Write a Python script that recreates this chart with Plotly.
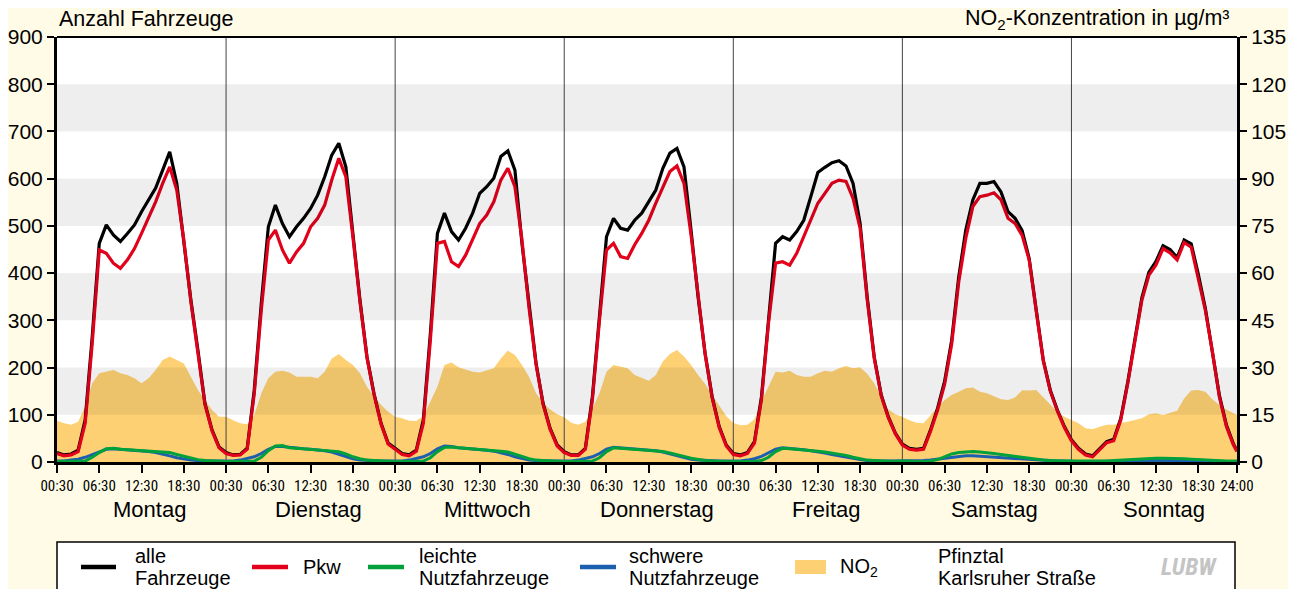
import plotly.graph_objects as go

# ---------------- data (hourly readings, Monday 00:30 ... Sunday 24:00) ----------------
days = ["Montag", "Dienstag", "Mittwoch", "Donnerstag", "Freitag", "Samstag", "Sonntag"]
tick_cycle = ["00:30", "06:30", "12:30", "18:30"]
tick_last = "24:00"

alle = [
    20, 15, 17, 25, 89, 265, 463, 502, 481, 467, 484, 502, 530, 555, 580, 618, 657, 590, 470, 343, 237, 124, 68, 32,   # Mo
    20, 15, 16, 29, 152, 336, 498, 544, 505, 477, 498, 516, 537, 565, 604, 650, 675, 625, 484, 343, 223, 145, 82, 40,  # Di
    29, 18, 15, 25, 89, 272, 484, 527, 488, 470, 495, 527, 569, 583, 601, 647, 659, 618, 463, 329, 209, 124, 71, 36,   # Mi
    22, 15, 15, 29, 138, 308, 477, 516, 495, 491, 512, 527, 551, 576, 622, 654, 664, 625, 491, 350, 230, 138, 75, 36,  # Do
    18, 15, 20, 43, 138, 308, 463, 477, 470, 488, 512, 562, 613, 624, 634, 638, 627, 590, 505, 350, 223, 142, 96, 61,  # Fr
    38, 29, 27, 29, 68, 114, 171, 258, 392, 491, 555, 590, 590, 594, 572, 530, 516, 490, 431, 322, 216, 152, 110, 75,  # Sa
    47, 29, 17, 13, 27, 43, 48, 92, 170, 262, 348, 402, 425, 458, 450, 433, 470, 462, 398, 326, 238, 141, 78, 38,      # So
    24,
]
pkw = [
    18, 13, 15, 22, 82, 251, 449, 442, 421, 410, 428, 452, 484, 516, 551, 590, 625, 576, 470, 340, 235, 122, 66, 30,
    18, 14, 15, 27, 145, 322, 470, 491, 449, 421, 445, 463, 498, 516, 544, 597, 643, 604, 477, 340, 221, 143, 80, 38,
    27, 16, 13, 23, 82, 258, 463, 467, 424, 414, 438, 470, 505, 523, 551, 597, 622, 583, 470, 327, 207, 122, 69, 34,
    20, 14, 14, 27, 132, 300, 449, 463, 435, 431, 460, 484, 512, 548, 580, 615, 627, 590, 481, 347, 228, 136, 73, 34,
    16, 13, 18, 40, 132, 294, 421, 424, 417, 442, 477, 512, 548, 569, 590, 597, 594, 558, 495, 345, 220, 140, 94, 60,
    36, 27, 25, 27, 65, 110, 165, 250, 381, 474, 541, 562, 565, 570, 555, 516, 505, 480, 428, 320, 214, 150, 108, 73,
    45, 27, 15, 11, 25, 41, 45, 89, 167, 258, 343, 396, 417, 452, 443, 428, 465, 455, 392, 322, 234, 138, 75, 36,
    22,
]
lnf = [
    1, 1, 1, 1, 2, 10, 20, 28, 29, 27, 26, 25, 25, 24, 23, 22, 20, 16, 12, 8, 5, 3, 2, 1,
    1, 1, 1, 1, 2, 10, 24, 34, 35, 30, 29, 28, 27, 26, 25, 24, 22, 17, 11, 7, 4, 3, 2, 1,
    1, 1, 1, 1, 2, 9, 22, 31, 32, 30, 29, 28, 27, 26, 25, 23, 21, 17, 12, 7, 4, 3, 2, 1,
    1, 1, 1, 1, 2, 9, 22, 30, 29, 27, 26, 25, 25, 24, 22, 19, 16, 12, 8, 5, 3, 2, 1, 1,
    1, 1, 1, 1, 3, 10, 22, 29, 28, 27, 26, 25, 23, 21, 19, 17, 14, 10, 7, 4, 3, 2, 1, 1,
    2, 1, 1, 1, 2, 5, 11, 17, 20, 21, 22, 21, 20, 18, 16, 14, 12, 9, 7, 5, 4, 3, 2, 2,
    2, 2, 1, 1, 1, 2, 3, 4, 5, 6, 7, 8, 8, 8, 8, 7, 7, 6, 5, 4, 3, 3, 2, 2,
    2,
]
snf = [
    2, 2, 4, 6, 10, 16, 22, 27, 28, 27, 26, 25, 24, 22, 20, 17, 13, 9, 6, 4, 3, 2, 2, 2,
    2, 2, 4, 7, 11, 18, 27, 33, 33, 31, 29, 28, 27, 26, 24, 21, 16, 11, 7, 4, 3, 2, 2, 2,
    2, 2, 4, 7, 11, 18, 28, 34, 33, 30, 29, 28, 27, 25, 23, 20, 16, 11, 7, 4, 3, 2, 2, 2,
    2, 2, 4, 7, 11, 18, 27, 31, 30, 28, 27, 26, 25, 24, 21, 17, 13, 9, 6, 4, 3, 2, 2, 2,
    2, 2, 4, 7, 12, 19, 27, 30, 29, 27, 26, 24, 22, 19, 16, 13, 10, 7, 5, 3, 2, 2, 2, 2,
    2, 2, 2, 3, 4, 6, 8, 10, 12, 13, 13, 12, 12, 11, 10, 9, 8, 6, 5, 4, 3, 2, 2, 2,
    1, 1, 1, 1, 1, 1, 1, 2, 2, 2, 3, 3, 3, 3, 3, 3, 3, 2, 2, 2, 2, 1, 1, 1,
    1,
]
no2 = [
    13.1, 12.3, 11.8, 12.8, 17.6, 25.0, 28.2, 28.7, 29.2, 28.2, 27.6, 26.6, 25.0, 26.6, 29.2, 32.4, 33.5, 32.4, 31.3, 27.1, 22.9, 19.7, 16.5, 14.4,
    14.4, 13.3, 12.3, 12.0, 14.9, 21.8, 26.6, 28.7, 29.0, 28.4, 27.1, 27.1, 27.1, 26.6, 28.7, 32.9, 34.3, 32.4, 30.8, 28.2, 23.9, 20.8, 18.1, 16.0,
    14.4, 13.9, 13.1, 13.0, 14.6, 19.2, 23.9, 30.8, 31.6, 30.1, 29.4, 28.7, 28.4, 29.0, 29.8, 32.9, 35.4, 34.0, 30.8, 27.1, 21.8, 18.8, 16.7, 15.2,
    14.2, 12.5, 11.8, 12.8, 17.0, 21.8, 28.7, 30.8, 30.3, 29.8, 27.6, 26.6, 25.8, 27.6, 31.9, 34.3, 35.6, 33.5, 30.8, 27.6, 24.8, 21.3, 17.8, 14.6,
    12.4, 11.7, 11.8, 13.6, 19.3, 24.1, 28.7, 28.4, 29.0, 27.6, 27.1, 27.1, 28.2, 29.0, 28.7, 29.8, 30.5, 29.8, 30.1, 28.0, 25.0, 20.8, 16.7, 15.2,
    14.4, 13.3, 12.5, 12.3, 14.9, 17.4, 19.7, 21.3, 22.3, 23.4, 23.7, 22.3, 21.8, 20.8, 19.9, 19.7, 20.5, 22.8, 22.7, 22.9, 20.5, 18.1, 16.0, 14.4,
    13.3, 12.3, 10.7, 10.4, 11.2, 11.8, 11.8, 12.5, 12.8, 13.3, 13.9, 15.2, 15.5, 14.9, 15.5, 16.3, 20.2, 22.7, 22.9, 22.3, 19.9, 18.1, 16.7, 15.5,
    14.9,
]

# half-hour index of each reading (48 half-hours per day, last reading 24:00 = index 335)
n_hours = len(days) * 24
xs = [2 * i for i in range(n_hours)] + [len(days) * 48 - 1]

# ---------------- colours / fonts ----------------
PAPER = "#FFFBE7"
C_NO2 = "#FDD073"
C_ALLE = "#000000"
C_PKW = "#E2001A"
C_LNF = "#00A13A"
C_SNF = "#1D5FAF"
F_MAIN = "Liberation Sans, Arial, sans-serif"
F_NARROW = "Liberation Sans Narrow, Arial Narrow, Roboto Condensed, Liberation Sans, sans-serif"

# page offset of the figure (default body margin) and target plot area in page pixels
OFF = 8
FIG_W, FIG_H = 1288, 581
L, R, T, B = 57, 1237, 37, 462


def px(xp):
    return (xp - L) / (R - L)


def py(yp):
    return (B - yp) / (B - T)


fig = go.Figure()

# NO2 area on the main (right-hand) axis -> drawn below the overlaid vehicle traces
fig.add_trace(go.Scatter(x=xs, y=no2, yaxis="y", mode="lines", fill="tozeroy",
                         fillcolor=C_NO2, line=dict(width=0, color=C_NO2),
                         hoverinfo="skip", showlegend=False))

# day separators
sep_x, sep_y = [], []
for d in range(1, len(days)):
    sep_x += [d * 48, d * 48, None]
    sep_y += [0, 900, None]
fig.add_trace(go.Scatter(x=sep_x, y=sep_y, yaxis="y2", mode="lines",
                         line=dict(color="#444444", width=1), hoverinfo="skip", showlegend=False))

for vals, col, w in [(snf, C_SNF, 3), (lnf, C_LNF, 3), (alle, C_ALLE, 3.2), (pkw, C_PKW, 3.2)]:
    fig.add_trace(go.Scatter(x=xs, y=vals, yaxis="y2", mode="lines",
                             line=dict(color=col, width=w), hoverinfo="skip", showlegend=False))

# ---------------- shapes ----------------
shapes = []
for lo in (100, 300, 500, 700):
    shapes.append(dict(type="rect", xref="paper", yref="y2", x0=0, x1=1, y0=lo, y1=lo + 100,
                       fillcolor="rgba(0,0,0,0.065)", line=dict(width=0), layer="above"))
shapes.append(dict(type="line", xref="paper", yref="paper", x0=0, x1=1, y0=1, y1=1,
                   line=dict(color="black", width=2), layer="above"))
# legend box
shapes.append(dict(type="rect", xref="paper", yref="paper", x0=px(57), x1=px(1235),
                   y0=py(542), y1=py(605), fillcolor="white", line=dict(color="black", width=1.5)))
leg_y = py(567)
for x0, x1, col in [(81, 116, C_ALLE), (252, 288, C_PKW), (368, 404, C_LNF), (580, 616, C_SNF)]:
    shapes.append(dict(type="line", xref="paper", yref="paper", x0=px(x0), x1=px(x1),
                       y0=leg_y, y1=leg_y, line=dict(color=col, width=4.5)))
shapes.append(dict(type="rect", xref="paper", yref="paper", x0=px(795), x1=px(826),
                   y0=py(560), y1=py(574), fillcolor=C_NO2, line=dict(width=0)))

# ---------------- annotations ----------------
ann = []
ann.append(dict(text="Anzahl Fahrzeuge", xref="paper", yref="paper", x=0, y=py(19),
                xanchor="left", yanchor="middle", showarrow=False,
                font=dict(family=F_MAIN, size=21.5, color="black")))
ann.append(dict(text="NO<sub>2</sub>-Konzentration in µg/m³", xref="paper", yref="paper",
                x=px(1232), y=py(19), xanchor="right", yanchor="middle", showarrow=False,
                font=dict(family=F_MAIN, size=21.5, color="black")))
for d, name in enumerate(days):
    ann.append(dict(text=name, xref="x", yref="paper", x=d * 48 + 26.2, y=py(509),
                    xanchor="center", yanchor="middle", showarrow=False,
                    font=dict(family=F_MAIN, size=22, color="black")))

legend_text = [
    (133, "alle", "Fahrzeuge"),
    (301, "Pkw", None),
    (417, "leichte", "Nutzfahrzeuge"),
    (627, "schwere", "Nutzfahrzeuge"),
    (838, "NO<sub>2</sub>", None),
    (936, "Pfinztal", "Karlsruher Straße"),
]
for xp, t1, t2 in legend_text:
    if t2 is None:
        ann.append(dict(text=t1, xref="paper", yref="paper", x=px(xp), y=py(567),
                        xanchor="left", yanchor="middle", showarrow=False,
                        font=dict(family=F_MAIN, size=20, color="black")))
    else:
        for txt, yy in ((t1, 556), (t2, 578)):
            ann.append(dict(text=txt, xref="paper", yref="paper", x=px(xp), y=py(yy),
                            xanchor="left", yanchor="middle", showarrow=False,
                            font=dict(family=F_MAIN, size=20, color="black")))
ann.append(dict(text="<b><i>LUBW</i></b>", xref="paper", yref="paper", x=px(1189), y=py(567),
                xanchor="center", yanchor="middle", showarrow=False,
                font=dict(family=F_NARROW, size=24, color="#C4C4C4")))

tickvals = list(range(0, len(days) * 48, 12)) + [len(days) * 48 - 1]
ticktext = [tick_cycle[i % 4] for i in range(len(days) * 4)] + [tick_last]

fig.update_layout(
    width=FIG_W, height=FIG_H, autosize=False,
    margin=dict(l=L - OFF, r=FIG_W - (R - OFF), t=T - OFF, b=FIG_H - (B - OFF), autoexpand=False),
    paper_bgcolor=PAPER, plot_bgcolor="white",
    showlegend=False, shapes=shapes, annotations=ann,
    xaxis=dict(range=[0, len(days) * 48 - 1], tickvals=tickvals, ticktext=ticktext, automargin=False,
               showgrid=False, zeroline=False, showline=True, linewidth=3, linecolor="black",
               ticks="outside", ticklen=8, tickwidth=2, tickcolor="black",
               tickfont=dict(family=F_NARROW, size=15, color="black")),
    yaxis=dict(range=[0, 135], tickvals=list(range(0, 136, 15)), side="right", automargin=False,
               showgrid=False, zeroline=False, showline=True, linewidth=3, linecolor="black",
               ticks="outside", ticklen=7, tickwidth=2, tickcolor="black",
               tickfont=dict(family=F_MAIN, size=21, color="black")),
    yaxis2=dict(range=[0, 900], tickvals=list(range(0, 901, 100)), side="left", overlaying="y",
                automargin=False,
                showgrid=False, zeroline=False, showline=True, linewidth=3, linecolor="black",
                ticks="outside", ticklen=7, tickwidth=2, tickcolor="black",
                tickfont=dict(family=F_MAIN, size=21, color="black")),
)

fig.write_html("out.html")
